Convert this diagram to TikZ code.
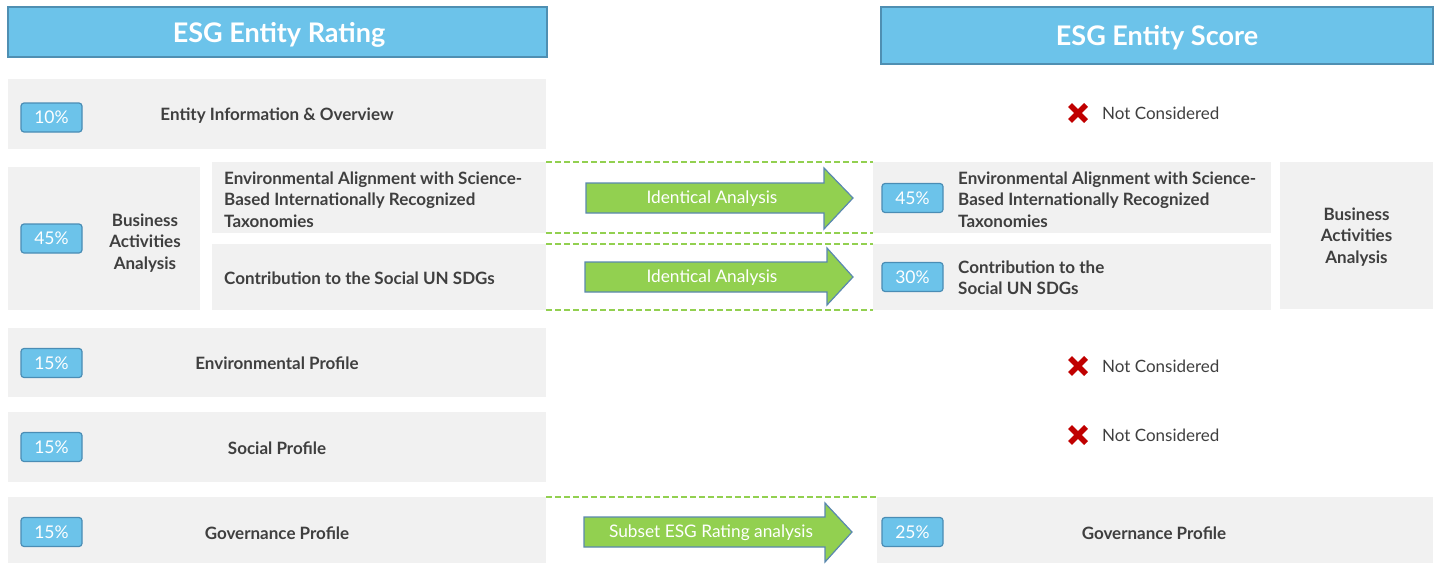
\documentclass[tikz,border=0pt]{standalone}
\usepackage{fontspec}
\setmainfont{Lato}
\definecolor{titleblue}{HTML}{6CC3EA}
\definecolor{titleborder}{HTML}{4F8FB2}
\definecolor{badgeblue}{HTML}{6CC3EA}
\definecolor{badgeborder}{HTML}{4A8DB5}
\definecolor{boxgray}{HTML}{F1F1F1}
\definecolor{textdark}{HTML}{3F3F3F}
\definecolor{dashgreen}{HTML}{92D050}
\definecolor{arrowgreen}{HTML}{92D050}
\definecolor{arrowborder}{HTML}{5A88AE}
\definecolor{xred}{HTML}{C00000}
\begin{document}
\begin{tikzpicture}[x=1pt,y=-1pt,
  titlebox/.style={draw=titleborder, line width=1.5pt, fill=titleblue, text=white,
    font=\bfseries\fontsize{27}{32}\selectfont, inner sep=0pt},
  graybox/.style={fill=boxgray, draw=none, inner sep=0pt},
  badge/.style={draw=badgeborder, line width=1.2pt, fill=badgeblue, rounded corners=3pt,
    minimum width=61pt, minimum height=29pt, text=white,
    font=\fontsize{17.5}{20}\selectfont, inner sep=0pt},
  lbl/.style={text=textdark, font=\bfseries\fontsize{17}{21.3}\selectfont, inner sep=0pt},
  notetext/.style={text=textdark, font=\fontsize{17}{21}\selectfont, inner sep=0pt, anchor=west},
  greendash/.style={draw=dashgreen, line width=1.5pt, dash pattern=on 6pt off 3pt},
  arrowbody/.style={fill=arrowgreen, draw=arrowborder, line width=1.2pt, line join=miter},
  arrowtext/.style={text=white, font=\fontsize{17.3}{20}\selectfont, inner sep=0pt},
  xmark/.style={draw=xred, line width=5.5pt}
]
\useasboundingbox (0,0) rectangle (1440,565);

% titles
\node[titlebox, minimum width=539pt, minimum height=50pt] (tl) at (277.5,32) {};
\node[text=white, font=\bfseries\fontsize{27}{32}\selectfont, inner sep=0pt] (tlt) at (279,34.5) {ESG Entity Rating};
\node[titlebox, minimum width=552pt, minimum height=57pt] (tr) at (1157,35.5) {};
\node[text=white, font=\bfseries\fontsize{27}{32}\selectfont, inner sep=0pt] (trt) at (1157,37.5) {ESG Entity Score};

% left column
\node[graybox, minimum width=538pt, minimum height=70pt] (r1) at (277,114) {};
\node[badge] (b1) at (51.5,117.5) {10\%};
\node[lbl] (t1) at (277,115.5) {Entity Information \& Overview};

\node[graybox, minimum width=192pt, minimum height=143pt] (ba) at (104,238.5) {};
\node[badge] (b2) at (51.5,238.5) {45\%};
\node[lbl, align=center] (t2) at (145,243) {Business\\Activities\\Analysis};

\node[graybox, minimum width=334pt, minimum height=71pt] (sb1) at (379,197.5) {};
\node[lbl, align=left, anchor=west] (t3) at (224,199.5) {Environmental Alignment with Science-\\Based Internationally Recognized\\Taxonomies};
\node[graybox, minimum width=334pt, minimum height=66pt] (sb2) at (379,277) {};
\node[lbl, anchor=west] (t4) at (224,278.5) {Contribution to the Social UN SDGs};

\node[graybox, minimum width=538pt, minimum height=69pt] (r3) at (277,362.5) {};
\node[badge] (b3) at (51.5,363) {15\%};
\node[lbl] (t5) at (277,363.5) {Environmental Profile};

\node[graybox, minimum width=538pt, minimum height=70pt] (r4) at (277,447) {};
\node[badge] (b4) at (51.5,447) {15\%};
\node[lbl] (t6) at (277,448.5) {Social Profile};

\node[graybox, minimum width=538pt, minimum height=66pt] (gl) at (277,530) {};
\node[badge] (b5) at (51.5,532) {15\%};
\node[lbl] (t7) at (277,533.5) {Governance Profile};

% right column
\node[graybox, minimum width=398pt, minimum height=71pt] (rb1) at (1072,197.5) {};
\node[badge] (b6) at (912.5,198) {45\%};
\node[lbl, align=left, anchor=west] (t8) at (958,199.5) {Environmental Alignment with Science-\\Based Internationally Recognized\\Taxonomies};
\node[graybox, minimum width=398pt, minimum height=66pt] (rb2) at (1072,277) {};
\node[badge] (b7) at (912.5,277) {30\%};
\node[lbl, align=left, anchor=west] (t9) at (958,278) {Contribution to the\\Social UN SDGs};
\node[graybox, minimum width=153pt, minimum height=147pt] (rba) at (1356.5,235.5) {};
\node[lbl, align=center] (t10) at (1356.5,237) {Business\\Activities\\Analysis};

\node[graybox, minimum width=556pt, minimum height=66pt] (gr) at (1155,530) {};
\node[badge] (b8) at (912.5,532) {25\%};
\node[lbl] (t11) at (1154,533.5) {Governance Profile};

% not considered
\foreach \yy/\nm in {113/n1,366/n2,435/n3}{
  \draw[xmark] (1070,\yy-8) -- (1086,\yy+8);
  \draw[xmark] (1070,\yy+8) -- (1086,\yy-8);
  \node[notetext] (\nm) at (1102,\yy) {Not Considered};
}

% dashed guides
\draw[greendash] (sb1.north east) -- (rb1.north west);
\draw[greendash] (sb1.south east) -- (rb1.south west);
\draw[greendash] (sb2.north east) -- (rb2.north west);
\draw[greendash] (sb2.south east) -- (rb2.south west);
\draw[greendash] (gl.north east) -- (gr.north west);

% block arrows
\draw[arrowbody] (586,183) -- (824,183) -- (824,168) -- (853,198) -- (824,229) -- (824,213) -- (586,213) -- cycle;
\node[arrowtext] (a1) at (712,199) {Identical Analysis};
\draw[arrowbody] (585,262) -- (827,262) -- (827,248) -- (853,277) -- (827,305) -- (827,292) -- (585,292) -- cycle;
\node[arrowtext] (a2) at (712,278) {Identical Analysis};
\draw[arrowbody] (584,517) -- (825,517) -- (825,503) -- (852,532) -- (825,562) -- (825,547) -- (584,547) -- cycle;
\node[arrowtext] (a3) at (711,533) {Subset ESG Rating analysis};
\end{tikzpicture}
\end{document}
